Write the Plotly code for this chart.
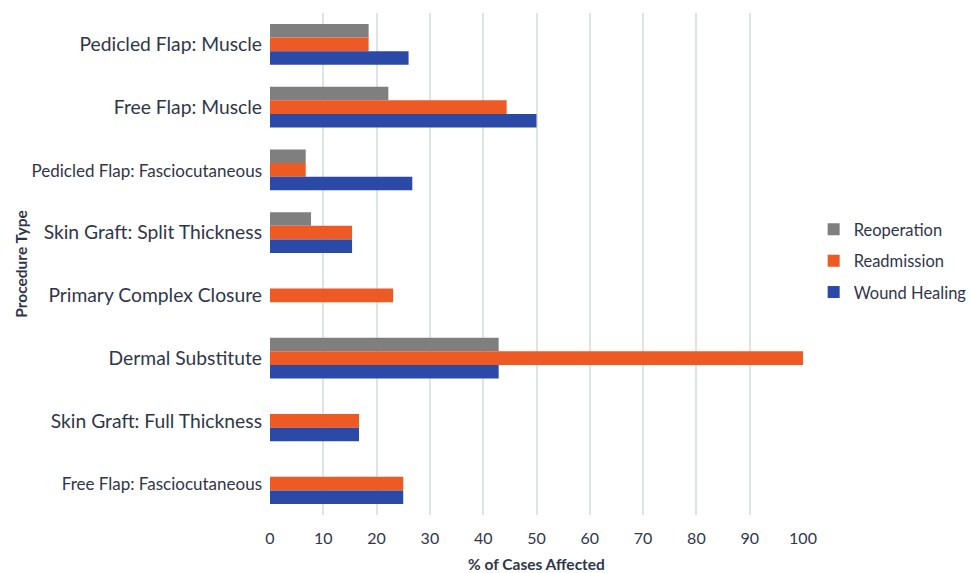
import plotly.graph_objects as go

# Procedure types, listed top to bottom
procedures = [
    "Pedicled Flap: Muscle",
    "Free Flap: Muscle",
    "Pedicled Flap: Fasciocutaneous",
    "Skin Graft: Split Thickness",
    "Primary Complex Closure",
    "Dermal Substitute",
    "Skin Graft: Full Thickness",
    "Free Flap: Fasciocutaneous",
]

# % of cases affected per outcome (None = no cases)
reoperation = [18.5, 22.2, 6.7, 7.7, None, 42.9, None, None]
readmission = [18.5, 44.4, 6.7, 15.4, 23.1, 100.0, 16.7, 25.0]
wound_healing = [26.0, 50.0, 26.7, 15.4, None, 42.9, 16.7, 25.0]

x_ticks = [0, 10, 20, 30, 40, 50, 60, 70, 80, 90, 100]

# Longer names are set in a smaller size
small_labels = {"Pedicled Flap: Fasciocutaneous", "Free Flap: Fasciocutaneous"}
tick_text = [
    f'<span style="font-size:17px">{p}</span>' if p in small_labels else p
    for p in procedures
]

text_color = "#30364a"
font_family = "Lato, 'Open Sans', sans-serif"

series = [
    ("Reoperation", reoperation, "#7f7f7f"),
    ("Readmission", readmission, "#ee5a24"),
    ("Wound Healing", wound_healing, "#2b4aa7"),
]

fig = go.Figure()
for name, values, color in series:
    fig.add_trace(
        go.Bar(
            y=procedures,
            x=values,
            name=name,
            orientation="h",
            legendgroup=name,
            marker=dict(color=color, line=dict(width=0)),
        )
    )

fig.update_layout(
    width=971,
    height=573,
    margin=dict(l=270, r=168, t=13, b=58, autoexpand=False),
    paper_bgcolor="white",
    plot_bgcolor="white",
    barmode="group",
    bargap=0.35,
    bargroupgap=0,
    font=dict(family=font_family, color=text_color, size=15),
    legend=dict(
        x=1.02,
        y=0.506,
        xanchor="left",
        yanchor="middle",
        traceorder="grouped",
        tracegroupgap=7,
        font=dict(size=16.5, color=text_color),
        itemwidth=30,
    ),
    xaxis=dict(
        range=[0, 100],
        tickvals=x_ticks,
        ticktext=[str(t) for t in x_ticks],
        showgrid=True,
        gridcolor="#dfe2e7",
        gridwidth=1.5,
        zeroline=False,
        showline=False,
        ticks="",
        ticklabelstandoff=12,
        tickfont=dict(size=16, color=text_color),
        title=dict(
            text="<b>% of Cases Affected</b>",
            font=dict(size=15.5, color=text_color),
            standoff=14,
        ),
    ),
    yaxis=dict(
        categoryorder="array",
        categoryarray=procedures,
        tickvals=procedures,
        ticktext=tick_text,
        autorange="reversed",
        showgrid=False,
        zeroline=False,
        showline=False,
        ticks="",
        ticklabelstandoff=7,
        tickfont=dict(size=19.3, color=text_color),
        title=dict(
            text="<b>Procedure Type</b>",
            font=dict(size=15.5, color=text_color),
            standoff=0,
        ),
    ),
)

fig.write_html("out.html")
